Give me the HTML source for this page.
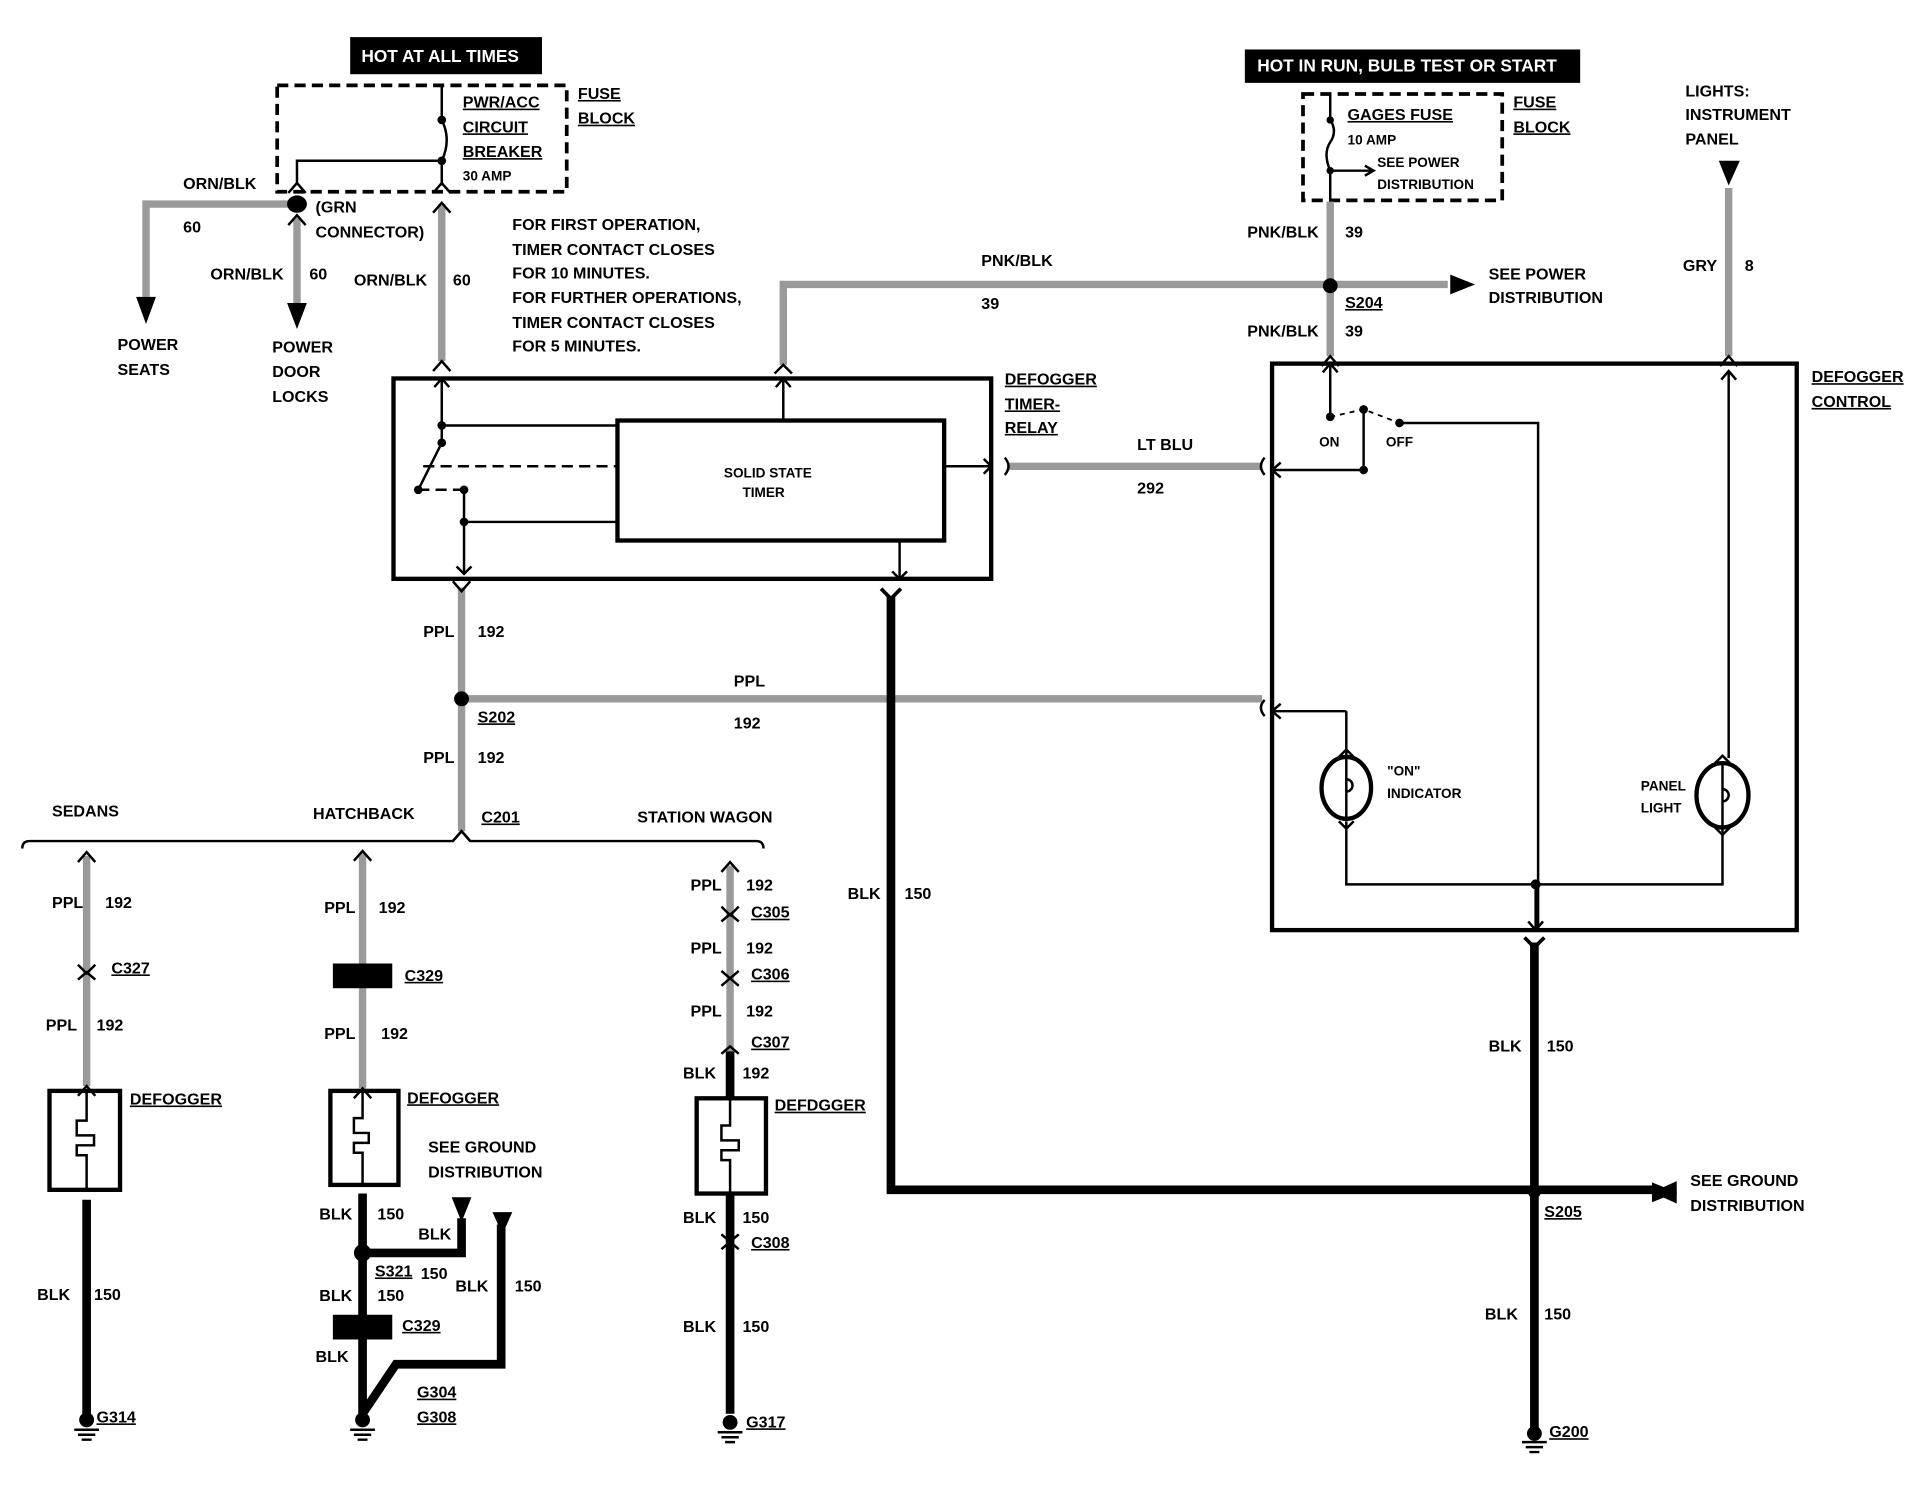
<!DOCTYPE html>
<html><head><meta charset="utf-8"><style>
html,body{margin:0;padding:0;background:#fff;}
svg{display:block;}
text{font-family:"Liberation Sans Narrow","Liberation Sans",sans-serif;font-weight:bold;font-size:13px;fill:#000;}
.s{font-size:11px;}
.w{fill:#fff;font-size:14px;}
.g{stroke:#9a9a9a;stroke-width:6;fill:none;}
.b{stroke:#000;stroke-width:7;fill:none;}
.t{stroke:#000;stroke-width:2;fill:none;}
.T{stroke:#000;stroke-width:3.5;fill:none;}
.d{stroke:#000;stroke-width:3;fill:none;stroke-dasharray:9 5;}
.u{text-decoration:underline;}
</style></head><body>
<svg width="1918" height="1504" viewBox="0 0 1550 1216" preserveAspectRatio="none" xmlns="http://www.w3.org/2000/svg">
<rect width="1550" height="1216" fill="#fff"/>
<!-- left top -->
<rect x="283" y="30" width="155" height="30" fill="#000"/>
<text class="w" x="292" y="50">HOT AT ALL TIMES</text>
<rect x="224" y="69" width="234" height="86" class="d"/>
<path class="t" d="M357 69 V97 Q365 113 357 130 V150 M240 148 V130 H357"/>
<circle cx="357" cy="97" r="3.5"/><circle cx="357" cy="130" r="3.5"/>
<path class="t" d="M233 156 L240 148 L247 156 M350 156 L357 148 L364 156"/>
<text class="u" x="374" y="87">PWR/ACC</text><text class="u" x="374" y="107">CIRCUIT</text><text class="u" x="374" y="127">BREAKER</text><text class="s" x="374" y="146">30 AMP</text>
<text class="u" x="467" y="80">FUSE</text><text class="u" x="467" y="100">BLOCK</text>
<text x="148" y="153">ORN/BLK</text><text x="148" y="188">60</text>
<path class="g" d="M240 165 H118 V240"/><path d="M110 240 H126 L118 262 Z"/>
<ellipse cx="240" cy="165" rx="8" ry="7"/>
<text x="255" y="172">(GRN</text><text x="255" y="192">CONNECTOR)</text>
<path class="g" d="M240 176 V245"/><path d="M232 245 H248 L240 266 Z"/>
<path class="t" d="M233 182 L240 174 L247 182"/>
<text x="170" y="226">ORN/BLK</text><text x="250" y="226">60</text>
<path class="g" d="M357 165 V292"/>
<path class="t" d="M350 172 L357 164 L364 172 M350 300 L357 292 L364 300"/>
<text x="286" y="231">ORN/BLK</text><text x="366" y="231">60</text>
<text x="95" y="283">POWER</text><text x="95" y="303">SEATS</text>
<text x="220" y="285">POWER</text><text x="220" y="305">DOOR</text><text x="220" y="325">LOCKS</text>
<text x="414" y="186">FOR FIRST OPERATION,</text><text x="414" y="206">TIMER CONTACT CLOSES</text><text x="414" y="225">FOR 10 MINUTES.</text><text x="414" y="245">FOR FURTHER OPERATIONS,</text><text x="414" y="265">TIMER CONTACT CLOSES</text><text x="414" y="284">FOR 5 MINUTES.</text>
<!-- timer relay -->
<rect x="318" y="306" width="483" height="162" class="T"/>
<rect x="499" y="340" width="264" height="97" class="T"/>
<text class="s" x="585" y="386">SOLID STATE</text><text class="s" x="600" y="402">TIMER</text>
<path class="t" d="M357 306 V358 M357 344 H499 M357 358 L338 396 M375 396 V464 M375 422 H499 M633 340 V306 M763 377 H801 M727 437 V468 M351 313 L357 306 L363 313 M627 313 L633 306 L639 313 M795 371 L801 377 L795 383 M369 458 L375 464 L381 458 M721 462 L727 468 L733 462"/>
<path class="d" style="stroke-width:2" d="M342 377 H499 M338 396 H375"/>
<circle cx="357" cy="344" r="3.5"/><circle cx="357" cy="358" r="3.5"/><circle cx="338" cy="396" r="3.5"/><circle cx="375" cy="396" r="3.5"/><circle cx="375" cy="422" r="3.5"/>
<text class="u" x="812" y="311">DEFOGGER</text><text class="u" x="812" y="331">TIMER-</text><text class="u" x="812" y="350">RELAY</text>
<!-- PNK/BLK -->
<path class="g" d="M633 295 V230 H1170"/><path d="M1172 222 V238 L1192 230 Z"/>
<path class="t" d="M626 302 L633 295 L640 302"/>
<text x="793" y="215">PNK/BLK</text><text x="793" y="250">39</text>
<!-- right fuse -->
<rect x="1006" y="40" width="271" height="27" fill="#000"/>
<text class="w" x="1016" y="58">HOT IN RUN,  BULB TEST OR START</text>
<rect x="1053" y="76" width="161" height="86" class="d"/>
<path class="t" d="M1075 76 V97 Q1081 106 1075 115 Q1069 124 1075 138 V162 M1075 138 H1108 M1103 134 L1110 138 L1103 142"/>
<circle cx="1075" cy="97" r="3"/><circle cx="1075" cy="138" r="3"/>
<text class="u" x="1089" y="97">GAGES FUSE</text><text class="s" x="1089" y="117">10 AMP</text><text class="s" x="1113" y="135">SEE POWER</text><text class="s" x="1113" y="153">DISTRIBUTION</text>
<text class="u" x="1223" y="87">FUSE</text><text class="u" x="1223" y="107">BLOCK</text>
<path class="g" d="M1075 163 V288"/><circle cx="1075" cy="231" r="6"/>
<path class="t" d="M1068 296 L1075 288 L1082 296"/>
<text x="1008" y="192">PNK/BLK</text><text x="1087" y="192">39</text><text class="u" x="1087" y="249">S204</text><text x="1008" y="272">PNK/BLK</text><text x="1087" y="272">39</text>
<text x="1203" y="226">SEE POWER</text><text x="1203" y="245">DISTRIBUTION</text>
<text x="1362" y="78">LIGHTS:</text><text x="1362" y="97">INSTRUMENT</text><text x="1362" y="117">PANEL</text>
<path d="M1389 130 H1406 L1397 150 Z"/>
<path class="g" d="M1397 152 V288"/><path class="t" d="M1390 296 L1397 288 L1404 296"/>
<text x="1360" y="219">GRY</text><text x="1410" y="219">8</text>
<!-- defogger control -->
<rect x="1028" y="294" width="424" height="458" class="T"/>
<text class="u" x="1464" y="309">DEFOGGER</text><text class="u" x="1464" y="329">CONTROL</text>
<path class="t" d="M1075 294 V337 M1102 331 V380 H1028 M1131 342 H1243 V752 M1397 300 V613 M1088 575 H1028 M1088 575 V612 M1088 664 V715 H1392 V668 M1241 715 V752 M1069 301 L1075 294 L1081 301 M1391 307 L1397 300 L1403 307 M1035 374 L1028 380 L1035 386 M1035 569 L1028 575 L1035 581 M1235 745 L1241 752 L1247 745"/>
<path class="d" style="stroke-width:1.5;stroke-dasharray:4 4" d="M1075 337 L1102 331 L1131 342"/>
<circle cx="1075" cy="337" r="3.5"/><circle cx="1102" cy="331" r="3.5"/><circle cx="1131" cy="342" r="3.5"/><circle cx="1102" cy="380" r="3.5"/><circle cx="1241" cy="715" r="4"/>
<text class="s" x="1066" y="361">ON</text><text class="s" x="1120" y="361">OFF</text>
<ellipse cx="1088" cy="637" rx="20" ry="25" class="T"/><path class="t" d="M1088 612 V662 M1088 630 a5 5 0 1 1 0 10 M1082 612 L1088 606 L1094 612 M1082 664 L1088 670 L1094 664"/>
<text class="s" x="1121" y="627">"ON"</text><text class="s" x="1121" y="645">INDICATOR</text>
<ellipse cx="1392" cy="643" rx="21" ry="26" class="T"/><path class="t" d="M1392 617 V669 M1392 638 a5 5 0 1 1 0 10 M1386 617 L1392 611 L1398 617 M1386 669 L1392 675 L1398 669"/>
<text class="s" x="1326" y="639">PANEL</text><text class="s" x="1326" y="657">LIGHT</text>
<!-- LT BLU -->
<path class="g" d="M815 377 H1020"/><path class="t" d="M812 370 Q818 377 812 384 M1022 370 Q1016 377 1022 384"/>
<text x="919" y="364">LT BLU</text><text x="919" y="399">292</text>
<!-- PPL 192 -->
<path class="g" d="M373 475 V672 M373 565 H1020"/><circle cx="373" cy="565" r="6"/>
<path class="t" d="M366 470 L373 478 L380 470 M1022 566 Q1016 572 1022 579 M366 680 L373 672 L380 680"/>
<text x="593" y="555">PPL</text><text x="593" y="589">192</text>
<text x="342" y="515">PPL</text><text x="386" y="515">192</text><text class="u" x="386" y="584">S202</text><text x="342" y="617">PPL</text><text x="386" y="617">192</text><text class="u" x="389" y="665">C201</text>
<!-- BLK 150 right -->
<path class="b" d="M720 482 V962 H1335 M1240 762 V1158"/>
<path d="M1335 956 V972 L1355 964 Z" /><path class="b" style="stroke-width:4" d="M1335 964 H1355"/>
<path d="M1355 955 V973 L1335 964 Z"/>
<circle cx="1240" cy="964" r="5"/>
<path class="t" style="stroke-width:3" d="M712 476 L720 484 L728 476 M1232 758 L1240 766 L1248 758"/>
<text x="685" y="727">BLK</text><text x="731" y="727">150</text><text x="1203" y="850">BLK</text><text x="1250" y="850">150</text>
<text class="u" x="1248" y="984">S205</text><text x="1366" y="959">SEE GROUND</text><text x="1366" y="979">DISTRIBUTION</text>
<text x="1200" y="1067">BLK</text><text x="1248" y="1067">150</text><text class="u" x="1252" y="1162">G200</text>
<!-- bracket -->
<path class="t" d="M18 686 Q18 680 24 680 H366 L373 672 L380 680 H611 Q617 680 617 686"/>
<text x="42" y="660">SEDANS</text><text x="253" y="662">HATCHBACK</text><text x="515" y="665">STATION WAGON</text>
<!-- sedan -->
<path class="g" d="M70 692 V878"/><path class="b" d="M70 970 V1143"/>
<path class="t" d="M63 697 L70 689 L77 697 M63 780 L70 787 L77 780 M63 792 L70 786 L77 792 M63 886 L70 878 L77 886"/>
<rect x="40" y="882" width="57" height="80" class="T"/>
<path class="t" d="M70 882 V906 H62 V918 H76 V926 H62 V934 H70 V962"/>
<text x="42" y="734">PPL</text><text x="85" y="734">192</text><text class="u" x="90" y="787">C327</text><text x="37" y="833">PPL</text><text x="78" y="833">192</text><text class="u" x="105" y="893">DEFOGGER</text>
<text x="30" y="1051">BLK</text><text x="76" y="1051">150</text><text class="u" x="78" y="1150">G314</text>
<!-- hatch -->
<path class="g" d="M293 690 V880"/><rect x="269" y="779" width="48" height="20"/>
<path class="t" d="M286 696 L293 688 L300 696 M286 888 L293 880 L300 888"/>
<rect x="267" y="882" width="55" height="76" class="T"/>
<path class="t" d="M293 882 V904 H286 V916 H298 V924 H286 V932 H293 V958"/>
<text x="262" y="738">PPL</text><text x="306" y="738">192</text><text class="u" x="327" y="793">C329</text><text x="262" y="840">PPL</text><text x="308" y="840">192</text><text class="u" x="329" y="892">DEFOGGER</text>
<path class="b" d="M293 965 V1143 M293 1013 H373 V985 M293 1143 L320 1103 H405 V990"/>
<circle cx="293" cy="1013" r="7"/><rect x="269" y="1063" width="48" height="20"/>
<path d="M365 968 H381 L373 988 Z M398 980 H414 L406 998 Z"/>
<text x="346" y="932">SEE GROUND</text><text x="346" y="952">DISTRIBUTION</text>
<text x="258" y="986">BLK</text><text x="305" y="986">150</text><text x="338" y="1002">BLK</text><text class="u" x="303" y="1032">S321</text><text x="340" y="1034">150</text>
<text x="258" y="1052">BLK</text><text x="305" y="1052">150</text><text x="368" y="1044">BLK</text><text x="416" y="1044">150</text>
<text class="u" x="325" y="1076">C329</text><text x="255" y="1101">BLK</text><text class="u" x="337" y="1130">G304</text><text class="u" x="337" y="1150">G308</text>
<!-- wagon -->
<path class="g" d="M590 700 V850"/><path class="b" d="M590 850 V888 M590 965 V1143"/>
<path class="t" d="M583 705 L590 697 L597 705 M583 733 L590 740 L597 733 M583 745 L590 739 L597 745 M583 785 L590 791 L597 785 M583 797 L590 791 L597 797 M583 852 L590 846 L597 852 M583 998 L590 1004 L597 998 M583 1010 L590 1004 L597 1010"/>
<rect x="563" y="888" width="56" height="77" class="T"/>
<path class="t" d="M590 888 V910 H583 V922 H597 V930 H583 V938 H590 V965"/>
<text x="558" y="720">PPL</text><text x="603" y="720">192</text><text class="u" x="607" y="742">C305</text><text x="558" y="771">PPL</text><text x="603" y="771">192</text><text class="u" x="607" y="792">C306</text>
<text x="558" y="822">PPL</text><text x="603" y="822">192</text><text class="u" x="607" y="847">C307</text><text x="552" y="872">BLK</text><text x="600" y="872">192</text><text class="u" x="626" y="898">DEFDGGER</text>
<text x="552" y="989">BLK</text><text x="600" y="989">150</text><text class="u" x="607" y="1009">C308</text><text x="552" y="1077">BLK</text><text x="600" y="1077">150</text><text class="u" x="603" y="1154">G317</text>
<!-- grounds -->
<g class="t">
<path d="M60 1156 H80 M63 1160 H77 M66 1164 H74 M283 1156 H303 M286 1160 H300 M289 1164 H297 M580 1158 H600 M583 1162 H597 M586 1166 H594 M1230 1166 H1250 M1233 1170 H1247 M1236 1174 H1244"/>
</g>
<circle cx="70" cy="1148" r="6"/><circle cx="293" cy="1148" r="6"/><circle cx="590" cy="1150" r="6"/><circle cx="1240" cy="1159" r="6"/>
</svg>
</body></html>
